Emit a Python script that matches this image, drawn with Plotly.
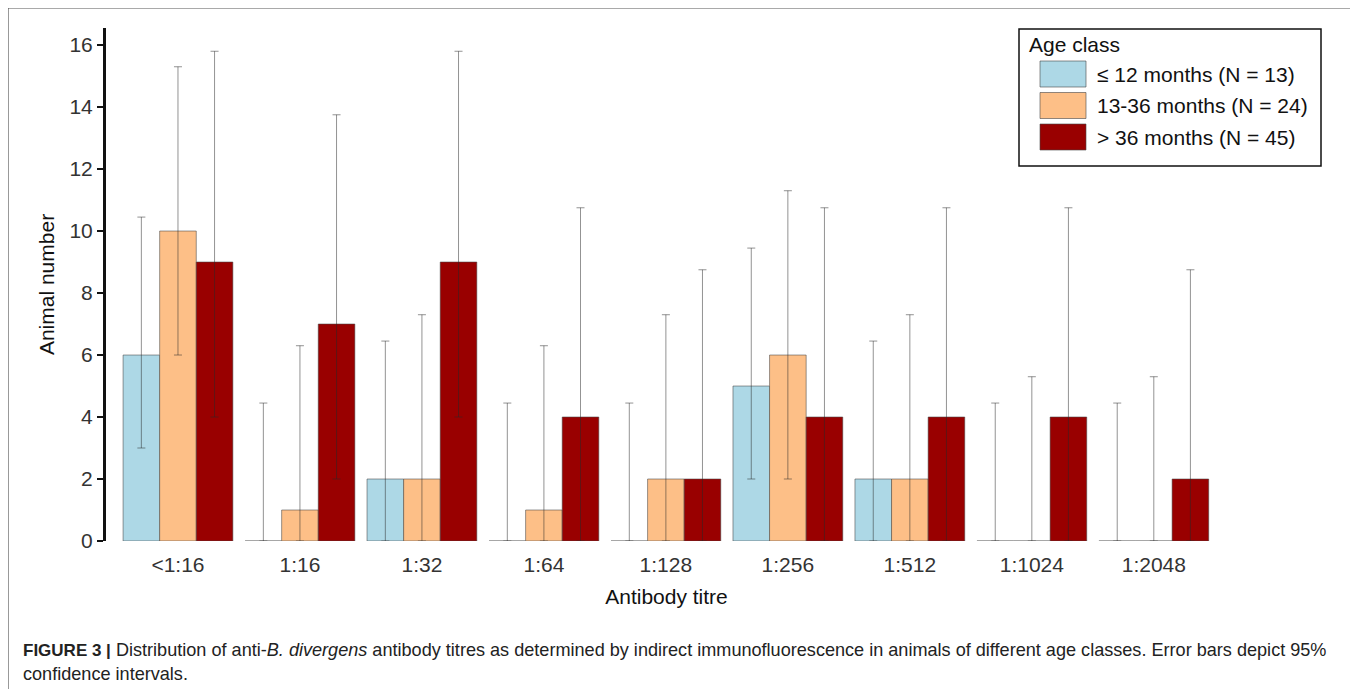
import plotly.graph_objects as go

# ---- data ----
titres = ["<1:16", "1:16", "1:32", "1:64", "1:128", "1:256", "1:512", "1:1024", "1:2048"]
series_names = ["\u2264 12 months (N = 13)", "13-36 months (N = 24)", "> 36 months (N = 45)"]
series_colors = ["#ADD8E6", "#FDBF87", "#990000"]

young = [6, 0, 2, 0, 0, 5, 2, 0, 0]
young_lo = [3, 0, 0, 0, 0, 2, 0, 0, 0]
young_hi = [10.45, 4.45, 6.45, 4.45, 4.45, 9.45, 6.45, 4.45, 4.45]

mid = [10, 1, 2, 1, 2, 6, 2, 0, 0]
mid_lo = [6, 0, 0, 0, 0, 2, 0, 0, 0]
mid_hi = [15.3, 6.3, 7.3, 6.3, 7.3, 11.3, 7.3, 5.3, 5.3]

old = [9, 7, 9, 4, 2, 4, 4, 4, 2]
old_lo = [4, 2, 4, 0, 0, 0, 0, 0, 0]
old_hi = [15.8, 13.75, 15.8, 10.75, 8.75, 10.75, 10.75, 10.75, 8.75]

caption_bold = "FIGURE 3 |"
caption_rest = (" Distribution of anti-<i>B. divergens</i> antibody titres as determined by indirect "
                "immunofluorescence in animals of different age classes. Error bars depict 95%<br>"
                "confidence intervals.")

# ---- geometry (pixels in the screenshot; page body adds an 8px offset) ----
OFF = 8
W, H = 1358 - OFF, 689 - OFF
L, R, T, B = 106 - OFF, 131, 28 - OFF, 148
pw, ph = W - L - R, H - T - B


def px(x):
    return (x - OFF - L) / pw


def py(y):
    return (H - B - (y - OFF)) / ph


FONT = "Liberation Sans, Arial, sans-serif"
FS = 21

fig = go.Figure()
for name, col, vals, lo, hi in [
    (series_names[0], series_colors[0], young, young_lo, young_hi),
    (series_names[1], series_colors[1], mid, mid_lo, mid_hi),
    (series_names[2], series_colors[2], old, old_lo, old_hi),
]:
    fig.add_trace(go.Bar(
        x=titres, y=vals, name=name, showlegend=False,
        marker=dict(color=col, line=dict(color="rgba(70,70,70,0.55)", width=1)),
        error_y=dict(type="data", symmetric=False,
                     array=[h - v for h, v in zip(hi, vals)],
                     arrayminus=[v - l for v, l in zip(vals, lo)],
                     color="rgba(40,40,40,0.5)", thickness=1, width=4),
    ))

shapes = []
annotations = []

# outer frame
shapes.append(dict(type="rect", xref="paper", yref="paper",
                   x0=px(8), x1=px(1355), y0=py(720), y1=py(8),
                   line=dict(color="#555555", width=1.2), fillcolor="rgba(0,0,0,0)", layer="below"))

# legend box
shapes.append(dict(type="rect", xref="paper", yref="paper",
                   x0=px(1019), x1=px(1321), y0=py(166), y1=py(29),
                   line=dict(color="#111111", width=1.5), fillcolor="white"))
annotations.append(dict(xref="paper", yref="paper", x=px(1027), y=py(44), text="Age class",
                        showarrow=False, xanchor="left", yanchor="middle",
                        font=dict(family=FONT, size=FS, color="#111111")))
for i, (name, col) in enumerate(zip(series_names, series_colors)):
    yc = 74 + i * 31.5
    shapes.append(dict(type="rect", xref="paper", yref="paper",
                       x0=px(1040), x1=px(1086), y0=py(yc + 13), y1=py(yc - 13),
                       line=dict(color="rgba(70,70,70,0.6)", width=1), fillcolor=col))
    annotations.append(dict(xref="paper", yref="paper", x=px(1095), y=py(yc), text=name,
                            showarrow=False, xanchor="left", yanchor="middle",
                            font=dict(family=FONT, size=FS, color="#111111")))

# caption
annotations.append(dict(xref="paper", yref="paper", x=px(21), y=py(662),
                        text="<b><span style='font-size:17px'>" + caption_bold + "</span></b>" + caption_rest,
                        showarrow=False, xanchor="left", yanchor="middle", align="left",
                        font=dict(family=FONT, size=18.1, color="#222222")))

fig.update_layout(
    width=W, height=H,
    margin=dict(l=L, r=R, t=T, b=B, autoexpand=False),
    paper_bgcolor="white", plot_bgcolor="white",
    barmode="group", bargap=0.1, bargroupgap=0,
    font=dict(family=FONT, size=FS, color="#333333"),
    shapes=shapes, annotations=annotations,
    xaxis=dict(range=[-0.59, 8.6], showline=False, showgrid=False, zeroline=False,
               ticks="", tickfont=dict(size=FS, color="#333333"), ticklabelstandoff=9,
               title=dict(text="Antibody titre", font=dict(size=FS, color="#111111"), standoff=14)),
    yaxis=dict(range=[0, 16.55], showline=True, linecolor="#111111", linewidth=3,
               showgrid=False, zeroline=False, ticks="outside", ticklen=6, tickwidth=2,
               tickcolor="#111111", tickvals=[0, 2, 4, 6, 8, 10, 12, 14, 16],
               tickfont=dict(size=FS, color="#333333"),
               title=dict(text="Animal number", font=dict(size=FS, color="#111111"), standoff=10)),
)

fig.write_html("out.html")
